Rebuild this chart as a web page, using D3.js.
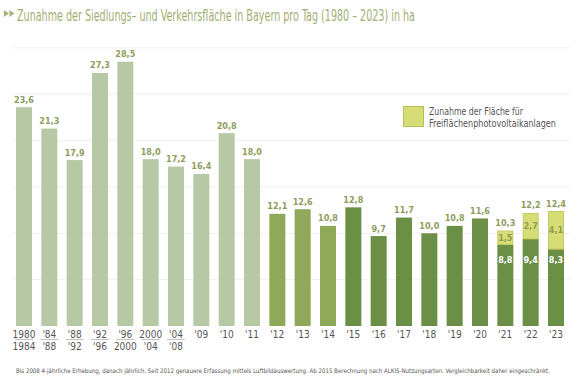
<!DOCTYPE html>
<html><head><meta charset="utf-8">
<script src="https://cdn.jsdelivr.net/npm/d3@7"></script>
<style>
html,body{margin:0;padding:0;background:#fff;}
svg{display:block;}
.cond{font-family:"DejaVu Sans Condensed","DejaVu Sans",sans-serif;font-stretch:condensed;}
</style></head>
<body>
<svg id="chart" width="580" height="385"></svg>
<script>
const labelTop = ["1980","'84","'88","'92","'96","2000","'04","'09","'10","'11","'12","'13","'14","'15","'16","'17","'18","'19","'20","'21","'22","'23"];
const labelBottom = ["1984","'88","'92","'96","2000","'04","'08","","","","","","","","","","","","","","",""];
const totals = [23.6,21.3,17.9,27.3,28.5,18.0,17.2,16.4,20.8,18.0,12.1,12.6,10.8,12.8,9.7,11.7,10.0,10.8,11.6,10.3,12.2,12.4];
const baseValues = [23.6,21.3,17.9,27.3,28.5,18.0,17.2,16.4,20.8,18.0,12.1,12.6,10.8,12.8,9.7,11.7,10.0,10.8,11.6,8.8,9.4,8.3];
const pvValues = [0,0,0,0,0,0,0,0,0,0,0,0,0,0,0,0,0,0,0,1.5,2.7,4.1];
const periods = ["alt","alt","alt","alt","alt","alt","alt","alt","alt","alt","mid","mid","mid","neu","neu","neu","neu","neu","neu","neu","neu","neu"];
const gridTicks = [5,10,15,20,25,30];

const colors = {alt:"#b6c8a4", mid:"#8fa85a", neu:"#6b8f45", pv:"#d6dc76"};
const fmt = v => d3.format(".1f")(v).replace(".", ",");

const svg = d3.select("#chart");
const data = totals.map((t,i)=>({i, top:labelTop[i], bottom:labelBottom[i], total:t, pv:pvValues[i], base:baseValues[i], period:periods[i]}));

const x = d3.scaleBand().domain(data.map(d=>d.i)).range([16,564]).paddingInner(0.368).paddingOuter(0);
const y = d3.scaleLinear().domain([0,30]).range([326,47.9]);

// title
svg.append("path").attr("d","M4,10 L9,13.5 L4,17 Z M9.5,10 L14.5,13.5 L9.5,17 Z").attr("fill","#a4b37a");
svg.append("text").attr("class","cond").attr("x",17).attr("y",20.5)
  .attr("font-size",15).attr("fill","#9fae72")
  .attr("textLength",398).attr("lengthAdjust","spacingAndGlyphs")
  .text("Zunahme der Siedlungs– und Verkehrsfläche in Bayern pro Tag (1980 – 2023) in ha");

// grid
svg.append("g").selectAll("line").data(gridTicks).join("line")
  .attr("x1",13).attr("x2",570).attr("y1",d=>y(d)).attr("y2",d=>y(d))
  .attr("stroke","#efefef").attr("stroke-width",1);

// bars
const g = svg.append("g");
g.selectAll("rect.base").data(data).join("rect").attr("class","base")
  .attr("x",d=>x(d.i)).attr("width",x.bandwidth())
  .attr("y",d=>y(d.base)).attr("height",d=>y(0)-y(d.base))
  .attr("fill",d=>colors[d.period]);
g.selectAll("rect.pv").data(data.filter(d=>d.pv>0)).join("rect").attr("class","pv")
  .attr("x",d=>x(d.i)+0.5).attr("width",x.bandwidth()-1)
  .attr("y",d=>y(d.total)+0.5).attr("height",d=>y(d.base)-y(d.total)-0.5)
  .attr("fill",colors.pv).attr("stroke","#c3ca5e").attr("stroke-width",1);

// value labels
const labelFont = 9;
g.selectAll("text.val").data(data).join("text").attr("class","val cond")
  .attr("x",d=>x(d.i)+x.bandwidth()/2).attr("y",d=>y(d.total)-4.5)
  .attr("text-anchor","middle").attr("font-size",labelFont).attr("font-weight","bold")
  .attr("fill","#8e9d5e").text(d=>fmt(d.total));
const pvData = data.filter(d=>d.pv>0);
const baseLabelY = y(d3.min(pvData,d=>d.base)) + 13.5;
g.selectAll("text.pvl").data(pvData).join("text").attr("class","pvl cond")
  .attr("x",d=>x(d.i)+x.bandwidth()/2).attr("y",d=>(y(d.total)+y(d.base))/2+3.2)
  .attr("text-anchor","middle").attr("font-size",labelFont).attr("font-weight","bold")
  .attr("fill","#8e9d4e").text(d=>fmt(d.pv));
g.selectAll("text.bl").data(pvData).join("text").attr("class","bl cond")
  .attr("x",d=>x(d.i)+x.bandwidth()/2).attr("y",baseLabelY)
  .attr("text-anchor","middle").attr("font-size",labelFont).attr("font-weight","bold")
  .attr("fill","#ffffff").text(d=>fmt(d.base));

// x labels
const xl = svg.append("g").attr("class","cond").attr("fill","#555").attr("font-size",10).attr("text-anchor","middle");
xl.selectAll("text.t").data(data).join("text").attr("class","t")
  .attr("x",d=>x(d.i)+x.bandwidth()/2).attr("y",337.5).text(d=>d.top);
xl.selectAll("text.b").data(data.filter(d=>d.bottom)).join("text").attr("class","b")
  .attr("x",d=>x(d.i)+x.bandwidth()/2).attr("y",349.5).text(d=>d.bottom);
svg.append("g").selectAll("line").data(data.filter(d=>d.bottom)).join("line")
  .attr("x1",d=>x(d.i)+x.bandwidth()/2-9).attr("x2",d=>x(d.i)+x.bandwidth()/2+9)
  .attr("y1",339.5).attr("y2",339.5).attr("stroke","#999").attr("stroke-width",0.6);

// legend
svg.append("rect").attr("x",403.5).attr("y",106.5).attr("width",20).attr("height",20)
  .attr("fill",colors.pv).attr("stroke","#b9c05a").attr("stroke-width",1);
const lt = svg.append("text").attr("class","cond").attr("fill","#555").attr("font-size",10.5);
lt.append("tspan").attr("x",429).attr("y",114.5).attr("textLength",94).attr("lengthAdjust","spacingAndGlyphs").text("Zunahme der Fläche für");
lt.append("tspan").attr("x",429).attr("y",127).attr("textLength",127).attr("lengthAdjust","spacingAndGlyphs").text("Freiflächenphotovoltaikanlagen");

// footnote
svg.append("text").attr("class","cond").attr("x",16).attr("y",373).attr("font-size",6.3).attr("fill","#555")
  .attr("textLength",534).attr("lengthAdjust","spacingAndGlyphs")
  .text("Bis 2008 4-jährliche Erhebung, danach jährlich. Seit 2012 genauere Erfassung mittels Luftbildauswertung. Ab 2015 Berechnung nach ALKIS-Nutzungsarten. Vergleichbarkeit daher eingeschränkt.");
</script>
</body></html>
